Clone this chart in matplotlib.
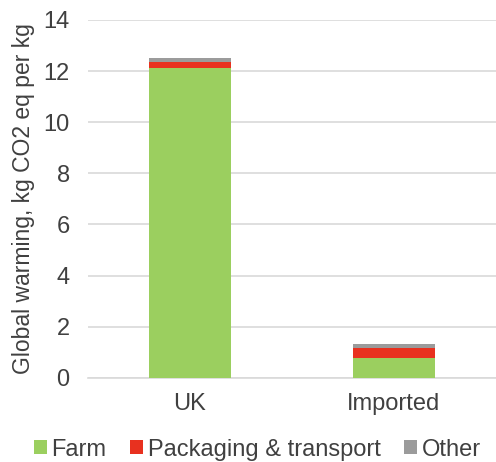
import matplotlib
matplotlib.use("Agg")
import matplotlib.pyplot as plt

categories = ["UK", "Imported"]
farm = [12.1, 0.77]
packaging = [0.27, 0.41]
other = [0.12, 0.14]
yticks = [0, 2, 4, 6, 8, 10, 12, 14]

plt.rcParams['font.family'] = ['Liberation Sans', 'DejaVu Sans']
fig = plt.figure(figsize=(4.96, 4.62), dpi=100)
ax = fig.add_axes([0.177, 0.182, 0.823, 0.775])

x = [0, 1]
w = 0.4
c_farm = "#9bcf5f"
c_pack = "#e8311f"
c_other = "#9b9b9b"
ax.bar(x, farm, w, color=c_farm, label="Farm", zorder=3)
b2 = [f for f in farm]
ax.bar(x, packaging, w, bottom=b2, color=c_pack, label="Packaging & transport", zorder=3)
b3 = [f + p for f, p in zip(farm, packaging)]
ax.bar(x, other, w, bottom=b3, color=c_other, label="Other", zorder=3)

ax.set_ylim(0, 14)
ax.set_xlim(-0.5, 1.5)
ax.set_yticks(yticks)
ax.set_xticks(x)
ax.set_xticklabels(categories)
ax.grid(axis='y', color="#d9d9d9", linewidth=1.2, zorder=0)
for s in ["top", "right", "left"]:
    ax.spines[s].set_visible(False)
ax.spines["bottom"].set_color("#d9d9d9")
ax.spines["bottom"].set_linewidth(1.2)
ax.tick_params(axis='y', length=0, labelsize=17, colors="#404040", pad=13)
ax.tick_params(axis='x', length=0, labelsize=17, colors="#404040", pad=11)
ax.set_ylabel("Global warming, kg CO2 eq per kg", fontsize=16.5, color="#404040", labelpad=6)

ax.legend(loc="center", bbox_to_anchor=(0.415, -0.2), ncol=3, frameon=False,
          fontsize=17, handlelength=0.55, handleheight=0.55, handletextpad=0.2,
          columnspacing=1.0, labelcolor="#404040", borderaxespad=0)

fig.savefig("out.png", dpi=100)
